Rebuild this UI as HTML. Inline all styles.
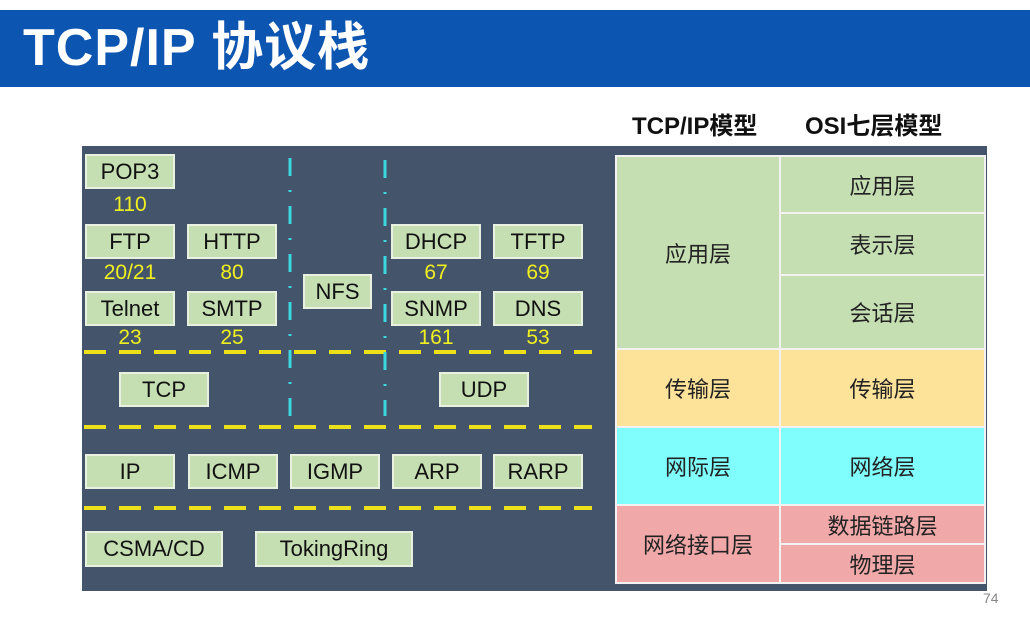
<!DOCTYPE html>
<html><head><meta charset="utf-8"><style>
body{margin:0;width:1030px;height:641px;background:#fff;position:relative;overflow:hidden;font-family:"Liberation Sans","Noto Sans CJK SC",sans-serif}
.a{position:absolute}
.hdr{left:0;top:10px;width:1030px;height:77px;background:#0c55b1}
.t{left:23px;top:17px;color:#fff;font-weight:bold;font-size:52px;letter-spacing:1px;line-height:62px}
.panel{left:82px;top:146px;width:905px;height:445px;background:#44546a}
.b{position:absolute;background:#c5dfb3;border:2px solid #e8f1e0;box-sizing:border-box;color:#111;font-size:22px;display:flex;align-items:center;justify-content:center}
.n{position:absolute;color:#f0f020;font-size:21px;text-align:center;width:90px}
.c{position:absolute;box-sizing:border-box;border:2px solid #f2f2f2;display:flex;align-items:center;justify-content:center;font-size:22px;color:#222}
.h2{position:absolute;top:106px;font-size:24px;font-weight:bold;color:#111}
</style></head><body>
<div class="a hdr"></div>
<div class="a t">TCP/IP 协议栈</div>
<div class="h2" style="left:632px">TCP/IP模型</div>
<div class="h2" style="left:805px">OSI七层模型</div>
<div class="a panel"></div>

<svg class="a" style="left:0;top:0" width="1030" height="641">
<g stroke="#ece01a" stroke-width="4" stroke-dasharray="22 13">
<line x1="84" y1="352" x2="592" y2="352"/>
<line x1="84" y1="427" x2="592" y2="427"/>
<line x1="84" y1="508" x2="592" y2="508"/>
</g>
<g stroke="#3cd8e0" stroke-width="3" stroke-dasharray="18 14 2 14">
<line x1="290" y1="158" x2="290" y2="416"/>
<line x1="385" y1="160" x2="385" y2="416"/>
</g>
</svg>

<div class="b" style="left:85px;top:154px;width:90px;height:35px">POP3</div>
<div class="n" style="left:85px;top:193px">110</div>
<div class="b" style="left:85px;top:224px;width:90px;height:35px">FTP</div>
<div class="b" style="left:187px;top:224px;width:90px;height:35px">HTTP</div>
<div class="n" style="left:85px;top:261px">20/21</div>
<div class="n" style="left:187px;top:261px">80</div>
<div class="b" style="left:85px;top:291px;width:90px;height:35px">Telnet</div>
<div class="b" style="left:187px;top:291px;width:90px;height:35px">SMTP</div>
<div class="n" style="left:85px;top:326px">23</div>
<div class="n" style="left:187px;top:326px">25</div>
<div class="b" style="left:303px;top:274px;width:69px;height:35px">NFS</div>
<div class="b" style="left:391px;top:224px;width:90px;height:35px">DHCP</div>
<div class="b" style="left:493px;top:224px;width:90px;height:35px">TFTP</div>
<div class="n" style="left:391px;top:261px">67</div>
<div class="n" style="left:493px;top:261px">69</div>
<div class="b" style="left:391px;top:291px;width:90px;height:35px">SNMP</div>
<div class="b" style="left:493px;top:291px;width:90px;height:35px">DNS</div>
<div class="n" style="left:391px;top:326px">161</div>
<div class="n" style="left:493px;top:326px">53</div>

<div class="b" style="left:119px;top:372px;width:90px;height:35px">TCP</div>
<div class="b" style="left:439px;top:372px;width:90px;height:35px">UDP</div>
<div class="b" style="left:85px;top:454px;width:90px;height:35px">IP</div>
<div class="b" style="left:188px;top:454px;width:90px;height:35px">ICMP</div>
<div class="b" style="left:290px;top:454px;width:90px;height:35px">IGMP</div>
<div class="b" style="left:392px;top:454px;width:90px;height:35px">ARP</div>
<div class="b" style="left:493px;top:454px;width:90px;height:35px">RARP</div>
<div class="b" style="left:85px;top:531px;width:138px;height:36px">CSMA/CD</div>
<div class="b" style="left:255px;top:531px;width:158px;height:36px">TokingRing</div>

<div class="c" style="left:615px;top:155px;width:166px;height:195px;background:#c5dfb3">应用层</div>
<div class="c" style="left:779px;top:155px;width:207px;height:59px;background:#c5dfb3">应用层</div>
<div class="c" style="left:779px;top:212px;width:207px;height:64px;background:#c5dfb3">表示层</div>
<div class="c" style="left:779px;top:274px;width:207px;height:76px;background:#c5dfb3">会话层</div>
<div class="c" style="left:615px;top:348px;width:166px;height:80px;background:#fde29a">传输层</div>
<div class="c" style="left:779px;top:348px;width:207px;height:80px;background:#fde29a">传输层</div>
<div class="c" style="left:615px;top:426px;width:166px;height:80px;background:#80fdfd">网际层</div>
<div class="c" style="left:779px;top:426px;width:207px;height:80px;background:#80fdfd">网络层</div>
<div class="c" style="left:615px;top:504px;width:166px;height:80px;background:#f0a8a8">网络接口层</div>
<div class="c" style="left:779px;top:504px;width:207px;height:41px;background:#f0a8a8">数据链路层</div>
<div class="c" style="left:779px;top:543px;width:207px;height:41px;background:#f0a8a8">物理层</div>
<div class="a" style="left:983px;top:590px;font-size:14px;color:#888">74</div>
</body></html>
